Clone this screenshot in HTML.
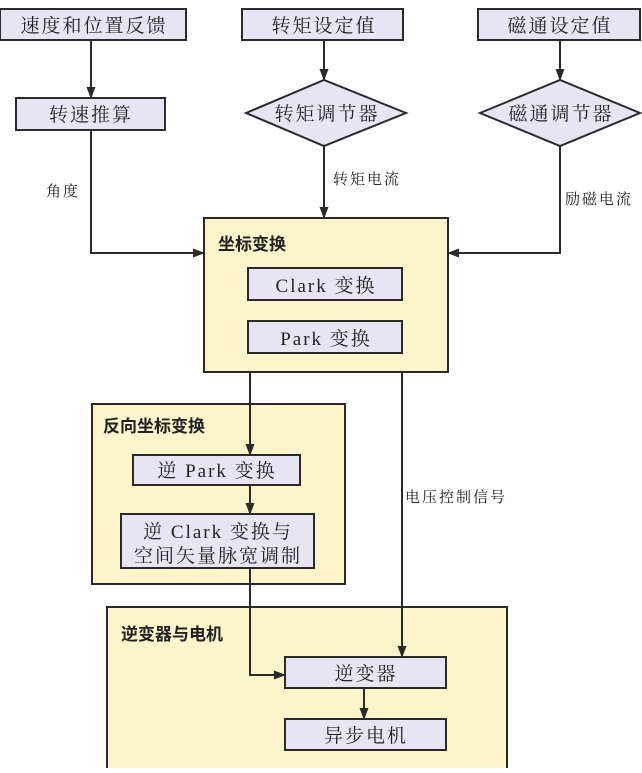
<!DOCTYPE html>
<html><head><meta charset="utf-8"><style>
body{margin:0;background:#fff;}
svg text{font-family:"Liberation Serif","Noto Serif CJK SC",serif;fill:#222;}
.t{font-family:"Liberation Sans","Noto Sans CJK SC",sans-serif;font-weight:bold;}
.s{letter-spacing:2px;}
</style></head><body>
<svg width="642" height="768" viewBox="0 0 642 768" xmlns="http://www.w3.org/2000/svg">
<defs><marker id="a" markerWidth="12" markerHeight="12" refX="11" refY="6" orient="auto" markerUnits="userSpaceOnUse"><path d="M0,1.5 L12,6 L0,10.5 Z" fill="#2a2a2a"/></marker></defs>
<g stroke="#2a2a2a" stroke-width="2">
<rect x="204" y="218" width="244" height="154" fill="#fbf5c9"/>
<rect x="92" y="404" width="253" height="180" fill="#fbf5c9"/>
<rect x="107" y="607" width="400" height="170" fill="#fbf5c9"/>
<g fill="#e7e5f3">
<rect x="0" y="9" width="186" height="31"/>
<rect x="242" y="9" width="161" height="31"/>
<rect x="478" y="9" width="162" height="31"/>
<rect x="16" y="98" width="149" height="32"/>
<polygon points="246,113 324,80 406,113 324,146"/>
<polygon points="480,113 560,80 640,113 560,146"/>
<rect x="248" y="268" width="154" height="32"/>
<rect x="248" y="321" width="154" height="32"/>
<rect x="133" y="455" width="167" height="30"/>
<rect x="121" y="514" width="193" height="54"/>
<rect x="285" y="657" width="161" height="31"/>
<rect x="285" y="719" width="161" height="31"/>
</g>
<g fill="none" marker-end="url(#a)">
<line x1="91" y1="40" x2="91" y2="98"/>
<line x1="324" y1="40" x2="324" y2="80"/>
<line x1="560" y1="40" x2="560" y2="80"/>
<line x1="324" y1="146" x2="324" y2="218"/>
<polyline points="91,130 91,253 204,253"/>
<polyline points="560,146 560,253 448,253"/>
<line x1="250" y1="372" x2="250" y2="455"/>
<line x1="250" y1="485" x2="250" y2="514"/>
<line x1="402" y1="372" x2="402" y2="657"/>
<polyline points="250,568 250,675 285,675"/>
<line x1="364" y1="688" x2="364" y2="719"/>
</g>
</g>
<g font-size="19" text-anchor="middle" class="s">
<text x="94" y="32">速度和位置反馈</text>
<text x="324" y="32">转矩设定值</text>
<text x="560" y="32">磁通设定值</text>
<text x="91" y="121">转速推算</text>
<text x="327" y="120">转矩调节器</text>
<text x="561" y="120">磁通调节器</text>
<text x="326" y="292">Clark 变换</text>
<text x="326" y="345">Park 变换</text>
<text x="217" y="477">逆 Park 变换</text>
<text x="218" y="538">逆 Clark 变换与</text>
<text x="218" y="562">空间矢量脉宽调制</text>
<text x="366" y="680">逆变器</text>
<text x="366" y="742">异步电机</text>
</g>
<g font-size="15" class="s">
<text x="333" y="184">转矩电流</text>
<text x="46" y="196">角度</text>
<text x="565" y="204">励磁电流</text>
<text x="405" y="502">电压控制信号</text>
</g>
<g font-size="17">
<text class="t" x="218" y="250">坐标变换</text>
<text class="t" x="103" y="432">反向坐标变换</text>
<text class="t" x="121" y="640">逆变器与电机</text>
</g>
</svg>
</body></html>
